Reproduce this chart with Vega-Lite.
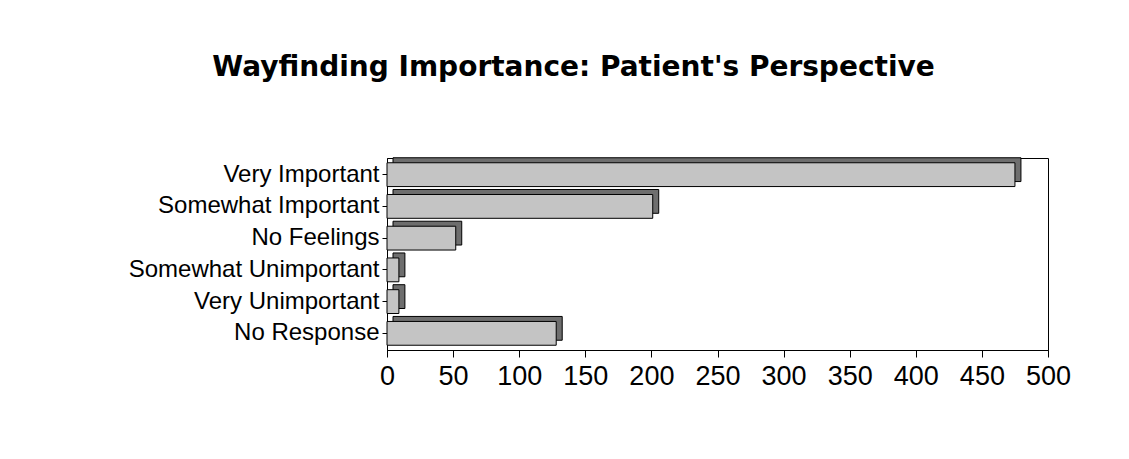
{
  "$schema": "https://vega.github.io/schema/vega-lite/v6.json",
  "autosize": "none",
  "width": 661,
  "height": 192,
  "padding": {"left": 387, "top": 158, "right": 81, "bottom": 109},
  "background": "white",
  "title": {
    "text": "Wayfinding Importance:  Patient's Perspective",
    "font": "DejaVu Sans",
    "fontSize": 28,
    "fontWeight": "bold",
    "color": "black",
    "anchor": "middle",
    "dx": -144,
    "offset": 75
  },
  "data": {
    "values": [
      {"response": "Very Important", "count": 475},
      {"response": "Somewhat Important", "count": 201},
      {"response": "No Feelings", "count": 52},
      {"response": "Somewhat Unimportant", "count": 9},
      {"response": "Very Unimportant", "count": 9},
      {"response": "No Response", "count": 128}
    ]
  },
  "encoding": {
    "y": {
      "field": "response",
      "type": "nominal",
      "sort": null,
      "scale": {"paddingInner": 0.25, "paddingOuter": 0.15},
      "axis": {
        "title": null,
        "labelFont": "Liberation Sans",
        "labelFontSize": 24,
        "labelColor": "black",
        "labelPadding": 3,
        "labelOverlap": false,
        "tickColor": "black",
        "tickSize": 5,
        "domainColor": "black",
        "labelLimit": 400
      }
    },
    "x": {
      "field": "count",
      "type": "quantitative",
      "scale": {"domain": [0, 500], "nice": false},
      "axis": {
        "title": null,
        "values": [0, 50, 100, 150, 200, 250, 300, 350, 400, 450, 500],
        "labelFont": "Liberation Sans",
        "labelFontSize": 27,
        "labelColor": "black",
        "labelPadding": 6,
        "labelOverlap": false,
        "labelFlush": false,
        "tickColor": "black",
        "tickSize": 7,
        "domainColor": "black",
        "grid": false
      }
    }
  },
  "layer": [
    {
      "mark": {"type": "bar", "color": "#6e6e6e", "stroke": "black", "strokeWidth": 1, "xOffset": 6, "yOffset": -5}
    },
    {
      "mark": {"type": "bar", "color": "#c4c4c4", "stroke": "black", "strokeWidth": 1}
    }
  ],
  "config": {
    "view": {"stroke": "black", "strokeWidth": 1}
  }
}
